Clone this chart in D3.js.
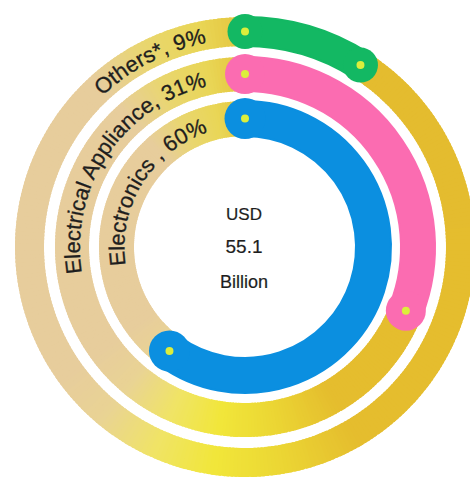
<!DOCTYPE html>
<html>
<head>
<meta charset="utf-8">
<script src="https://cdn.jsdelivr.net/npm/d3@7"></script>
<style>
  html, body { margin: 0; padding: 0; background: #ffffff; }
  svg { display: block; }
</style>
</head>
<body>
<svg id="chart" width="470" height="479"></svg>
<script>
// Market split, innermost ring first
const categories = ["Electronics", "Electrical Appliance", "Others*"];
const shares = [60, 31, 9];
const ringLabels = ["Electronics , 60%", "Electrical Appliance, 31%", "Others*, 9%"];
const arcColors = ["#0b8fe0", "#fb6cb1", "#13b863"];
const centerLines = ["USD", "55.1", "Billion"];

// Background track colour, by angle in degrees clockwise from 12 o'clock
const trackStopAngles = [0, 20, 150, 172, 188, 204, 220, 234, 318, 333, 348, 360];
const trackStopColors = ["#e4c43c", "#e4bc2f", "#e5bd2e", "#ecd834", "#f1e63a", "#f0e466",
                         "#e9d394", "#e7cd9c", "#e7cd9c", "#e9d670", "#e9d656", "#e4c43c"];

// Layout
const W = 470, H = 479;
const cx = 245, cy = 247;
const rings = [
  { inner: 111, outer: 146 },
  { inner: 156, outer: 190 },
  { inner: 201, outer: 230 }
];
const labelFont = 22;
const labelGap = 40;   // arc length kept free before the start cap

const svg = d3.select("#chart");
const g = svg.append("g").attr("transform", `translate(${cx},${cy})`);

const angle = d3.scaleLinear().domain([0, 100]).range([0, 2 * Math.PI]);
const trackColor = d3.scaleLinear()
  .domain(trackStopAngles)
  .range(trackStopColors)
  .interpolate(d3.interpolateRgb);

const rad = d => d * Math.PI / 180;

// Background tracks built from short overlapping segments
const segDeg = 1;
const segments = d3.range(0, 360, segDeg);
rings.forEach((ring, i) => {
  const arc = d3.arc().innerRadius(ring.inner).outerRadius(ring.outer);
  g.append("g").attr("class", "track track-" + i)
    .selectAll("path")
    .data(segments)
    .join("path")
    .attr("d", a => arc({ startAngle: rad(a), endAngle: rad(a + segDeg + 0.6) }))
    .attr("fill", a => trackColor(a + segDeg / 2));
});

// Curved ring labels, ending just before the top of each ring
const defs = svg.append("defs");
rings.forEach((ring, i) => {
  const mid = (ring.inner + ring.outer) / 2;
  const base = mid - labelFont * 0.36;
  const endA = -labelGap / mid;          // radians from 12 o'clock
  const startA = endA - rad(150);
  const p = d3.path();
  p.arc(0, 0, base, startA - Math.PI / 2, endA - Math.PI / 2, false);
  defs.append("path").attr("id", "label-path-" + i).attr("d", p.toString());
  g.append("text")
    .attr("font-family", "'Liberation Sans', Arial, Helvetica, sans-serif")
    .attr("font-size", labelFont)
    .attr("fill", "#1e1e1e")
    .attr("stroke", "#1e1e1e")
    .attr("stroke-width", 0.3)
    .append("textPath")
    .attr("href", "#label-path-" + i)
    .attr("startOffset", "100%")
    .attr("text-anchor", "end")
    .text(ringLabels[i]);
});

// Value arcs
shares.forEach((v, i) => {
  const ring = rings[i];
  const arc = d3.arc().innerRadius(ring.inner).outerRadius(ring.outer);
  g.append("path")
    .attr("d", arc({ startAngle: 0, endAngle: angle(v) }))
    .attr("fill", arcColors[i])
    .attr("stroke", arcColors[i])
    .attr("stroke-width", 2)
    .attr("stroke-linejoin", "round");
});

// Rounded knobs at both ends of each arc, each with a small yellow dot
const knobData = [];
shares.forEach((v, i) => {
  const ring = rings[i];
  const mid = (ring.inner + ring.outer) / 2;
  const half = (ring.outer - ring.inner) / 2;
  [0, angle(v)].forEach(a => {
    knobData.push({ x: mid * Math.sin(a), y: -mid * Math.cos(a), r: half + 3, color: arcColors[i] });
  });
});
g.append("g").selectAll("circle")
  .data(knobData)
  .join("circle")
  .attr("cx", d => d.x).attr("cy", d => d.y).attr("r", d => d.r)
  .attr("fill", d => d.color);
g.append("g").selectAll("circle")
  .data(knobData)
  .join("circle")
  .attr("cx", d => d.x).attr("cy", d => d.y).attr("r", 4)
  .attr("fill", "#dcee3c");

// Total in the middle
const centerY = [-27, 6, 41];
const centerSize = [17, 19, 18];
g.append("g")
  .selectAll("text")
  .data(centerLines)
  .join("text")
  .attr("x", -1)
  .attr("y", (d, i) => centerY[i])
  .attr("text-anchor", "middle")
  .attr("font-family", "'Liberation Sans', Arial, Helvetica, sans-serif")
  .attr("font-size", (d, i) => centerSize[i])
  .attr("fill", "#1e1e1e")
  .attr("stroke", "#1e1e1e")
  .attr("stroke-width", 0.2)
  .text(d => d);
</script>
</body>
</html>
